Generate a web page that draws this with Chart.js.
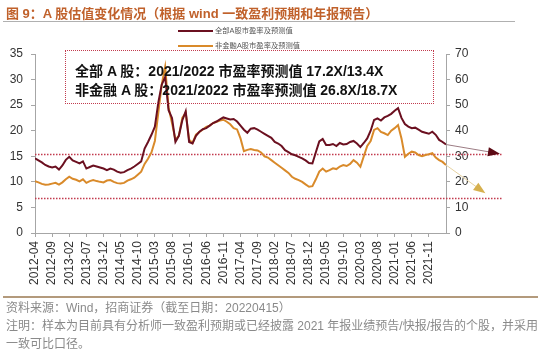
<!DOCTYPE html>
<html>
<head>
<meta charset="utf-8">
<script src="https://cdn.jsdelivr.net/npm/chart.js@4.4.1/dist/chart.umd.min.js"></script>
<style>
  body { margin: 0; background: #fff; }
  #wrap { position: relative; width: 550px; height: 352px; overflow: hidden; font-family: "Liberation Sans", Arial, "Noto Sans CJK SC", sans-serif; }
  #cv { position: absolute; left: 0; top: 0; }
  #title { position: absolute; left: 6px; top: 3px; font-size: 13px; font-weight: bold; color: #c0612b; white-space: nowrap; }
  .rule { position: absolute; }
  .leg { position: absolute; left: 178px; font-size: 7.3px; color: #555; white-space: nowrap; line-height: 10px; }
  .leg i { display: inline-block; width: 35px; height: 2px; vertical-align: middle; margin-right: 2px; }
  #box { position: absolute; left: 65px; top: 50px; width: 367px; height: 52px; border: 1.5px dotted #c23b4e; }
  #box div { position: absolute; left: 9px; font-size: 14px; font-weight: bold; color: #111; white-space: nowrap; }
  .note { position: absolute; left: 6px; font-size: 12px; color: #8a8a8a; white-space: nowrap; }
</style>
</head>
<body>
<div id="wrap">
  <canvas id="cv" width="550" height="300"></canvas>
  <div id="title">图 9：A 股估值变化情况（根据 wind 一致盈利预期和年报预告）</div>
  <div class="rule" style="left:3px;top:21px;width:512px;height:1px;background:#b0b0b0"></div>
  <div class="leg" style="top:26px"><i style="background:#6b1020"></i>全部A股市盈率及预测值</div>
  <div class="leg" style="top:41px"><i style="background:#d98a2a"></i>非金融A股市盈率及预测值</div>
  <div id="box">
    <div style="top:9px">全部 A 股：2021/2022 市盈率预测值 17.2X/13.4X</div>
    <div style="top:28px">非金融 A 股：2021/2022 市盈率预测值 26.8X/18.7X</div>
  </div>
  <div class="rule" style="left:3px;top:296px;width:535px;height:1.5px;background:#b39a7c"></div>
  <div class="note" style="top:298px">资料来源：Wind，招商证券（截至日期：20220415）</div>
  <div class="note" style="top:316px">注明：样本为目前具有分析师一致盈利预期或已经披露 2021 年报业绩预告/快报/报告的个股，并采用</div>
  <div class="note" style="top:334px">一致可比口径。</div>
</div>
<script>
// monthly, 2012-04 .. 2022-04
const startMonth = '2012-04'

// 全部A股 PE (left axis)
const allA = [
  14.6, 14.2, 13.8, 13.3, 13.0, 12.8, 13.0, 12.4, 13.2,
  14.3, 14.9, 14.2, 13.9, 13.6, 14.0, 12.6, 12.9, 13.2, 13.0, 12.8, 12.6,
  12.3, 12.6, 12.4, 12.0, 11.8, 11.9, 12.3, 12.6, 13.0, 13.5, 14.0, 16.5,
  17.8, 19.2, 20.8, 25.5, 29.0, 30.5, 24.0, 22.5, 17.8, 19.0, 22.0, 23.8,
  17.8, 17.5, 19.0, 19.8, 20.3, 20.5, 21.0, 21.5, 21.8, 22.2, 22.6, 22.4,
  22.2, 22.3, 21.8, 21.0, 20.2, 19.6, 20.4, 20.5, 20.2, 19.8, 19.4, 19.0,
  18.6, 17.8, 17.5, 17.0, 16.2, 15.8, 15.4, 15.2, 14.9, 14.6, 14.2, 13.7,
  13.6, 15.8, 17.9, 18.4, 17.2, 17.2, 17.4, 17.0, 17.6, 17.3, 17.4, 17.8,
  18.0, 17.5, 16.8, 17.6, 18.5, 20.0, 22.1, 22.4, 22.0, 22.6, 22.9, 23.3,
  23.9, 24.4, 22.5, 21.3, 20.8, 20.5, 20.6, 20.2, 19.8, 19.6, 19.4, 19.8,
  19.2, 18.2, 17.8, 17.3
]

// 非金融A股 PE (right axis)
const nonFin = [
  20.3, 19.8, 19.2, 18.9, 19.0, 19.3, 19.6, 18.9, 19.8,
  21.0, 22.0, 21.2, 20.8, 20.2, 21.0, 19.6, 20.3, 20.7, 20.3, 20.0, 19.8,
  20.5, 20.7, 20.0, 19.5, 19.4, 19.6, 20.5, 21.0, 21.6, 22.8, 24.0, 27.0,
  29.0, 31.5, 36.0, 47.0, 58.0, 65.0, 49.0, 43.0, 36.5, 38.0, 45.0, 47.0,
  36.5, 35.2, 38.5, 39.5, 40.5, 41.5, 42.0, 43.0, 43.5, 44.0, 44.3, 43.5,
  42.5, 41.0, 40.5, 37.0, 32.0, 32.5, 32.8, 32.5, 32.3, 31.5, 30.0, 29.5,
  28.5, 27.5, 26.5, 25.5, 24.5, 23.5, 22.0, 21.2, 20.7, 20.0, 19.0, 18.1,
  18.3, 21.0, 24.0, 25.2, 24.0, 24.6, 25.3, 25.0, 26.0, 26.6, 26.2, 27.0,
  28.5, 27.5, 25.9, 30.0, 34.0, 36.0, 40.3, 41.0, 39.5, 39.0, 38.3, 40.0,
  41.0, 42.2, 37.0, 29.8, 31.0, 31.8, 31.5, 30.5, 30.0, 30.5, 30.8, 31.2,
  29.5, 28.5, 27.8, 26.6
]

const tickLabels = [
  '2012-04', '2012-09', '2013-02', '2013-07', '2013-12', '2014-05', '2014-10', '2015-03',
  '2015-08', '2016-01', '2016-06', '2016-11', '2017-04', '2017-09', '2018-02', '2018-07',
  '2018-12', '2019-05', '2019-10', '2020-03', '2020-08', '2021-01', '2021-06', '2021-11'
]

// arrow end values: [all A (left axis), non-fin (right axis)]
const arrowEnds = [15.6, 16.2]
// dotted reference lines (left axis values)
const refLines = [15.4, 6.8]

const darkRed = '#6b1020'
const orange  = '#d98a2a'
const axisGray = '#a6a6a6'

function monthIndex(s) {
  const [y, m] = s.split('-').map(Number)
  const [y0, m0] = startMonth.split('-').map(Number)
  return (y - y0) * 12 + (m - m0)
}

const decor = {
  id: 'decor',
  beforeDatasetsDraw(chart) {
    const { ctx, chartArea, scales } = chart
    ctx.save()
    ctx.strokeStyle = '#c23b4e'
    ctx.lineWidth = 1.5
    ctx.setLineDash([1.5, 1.5])
    refLines.forEach(v => {
      const y = Math.round(scales.y.getPixelForValue(v)) + 0.5
      ctx.beginPath()
      ctx.moveTo(chartArea.left, y)
      ctx.lineTo(chartArea.right + 57, y)
      ctx.stroke()
    })
    ctx.restore()
  },
  afterDatasetsDraw(chart) {
    const { ctx, chartArea, scales } = chart
    const arrows = [
      { data: allA, scale: scales.y, end: arrowEnds[0], dx: 51, line: '#9c7c84', head: '#5c0a14' },
      { data: nonFin, scale: scales.y2, end: arrowEnds[1], dx: 37, line: '#e6d2a0', head: '#d6b04e' }
    ]
    ctx.save()
    arrows.forEach(a => {
      const last = a.data.length - 1
      const x0 = scales.x.getPixelForValue(last)
      const y0 = a.scale.getPixelForValue(a.data[last])
      const x1 = chartArea.right + a.dx
      const y1 = a.scale.getPixelForValue(a.end)
      ctx.strokeStyle = a.line
      ctx.lineWidth = 1
      ctx.beginPath()
      ctx.moveTo(x0, y0)
      ctx.lineTo(x1, y1)
      ctx.stroke()
      const ang = Math.atan2(y1 - y0, x1 - x0)
      const L = 9, W = 4.5
      ctx.fillStyle = a.head
      ctx.beginPath()
      ctx.moveTo(x1 + Math.cos(ang) * 3, y1 + Math.sin(ang) * 3)
      ctx.lineTo(x1 - Math.cos(ang) * L + Math.sin(ang) * W, y1 - Math.sin(ang) * L - Math.cos(ang) * W)
      ctx.lineTo(x1 - Math.cos(ang) * L - Math.sin(ang) * W, y1 - Math.sin(ang) * L + Math.cos(ang) * W)
      ctx.closePath()
      ctx.fill()
    })
    ctx.restore()
  }
}

const tickFont = { family: '"Liberation Sans", Arial, sans-serif', size: 12 }

new Chart(document.getElementById('cv'), {
  type: 'line',
  data: {
    datasets: [{
      label: '全部A股市盈率及预测值',
      data: allA.map((v, i) => ({ x: i, y: v })),
      borderColor: darkRed,
      borderWidth: 2,
      pointRadius: 0,
      yAxisID: 'y'
    }, {
      label: '非金融A股市盈率及预测值',
      data: nonFin.map((v, i) => ({ x: i, y: v })),
      borderColor: orange,
      borderWidth: 2,
      pointRadius: 0,
      yAxisID: 'y2'
    }]
  },
  options: {
    responsive: false,
    animation: false,
    events: [],
    layout: { padding: { top: 54, left: 0, right: 0, bottom: 0 } },
    plugins: { legend: { display: false }, tooltip: { enabled: false } },
    scales: {
      x: {
        type: 'linear',
        min: 0,
        max: allA.length - 1,
        afterBuildTicks: s => { s.ticks = tickLabels.map(t => ({ value: monthIndex(t) })) },
        afterFit: s => { s.height = 67 },
        grid: { drawOnChartArea: false, color: axisGray, tickLength: 4 },
        border: { color: axisGray },
        ticks: {
          autoSkip: false,
          minRotation: 90,
          maxRotation: 90,
          padding: 4,
          color: '#333',
          font: tickFont,
          callback: (v, i) => tickLabels[i]
        }
      },
      y: {
        position: 'left',
        min: 0,
        max: 35,
        afterFit: s => { s.width = 35 },
        grid: { drawOnChartArea: false, color: axisGray, tickLength: 4 },
        border: { color: axisGray },
        ticks: { stepSize: 5, padding: 8, color: '#333', font: tickFont }
      },
      y2: {
        position: 'right',
        min: 0,
        max: 70,
        afterFit: s => { s.width = 104 },
        grid: { drawOnChartArea: false, color: axisGray, tickLength: 4 },
        border: { color: axisGray },
        ticks: { stepSize: 10, padding: 5, color: '#333', font: tickFont }
      }
    }
  },
  plugins: [decor]
})
</script>
</body>
</html>
